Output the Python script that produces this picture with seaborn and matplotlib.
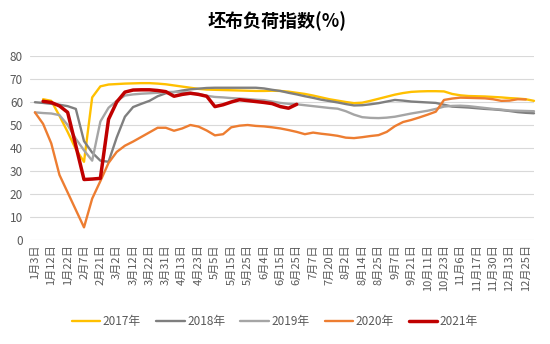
import numpy as np
import pandas as pd
import matplotlib
matplotlib.use("Agg")
import matplotlib.pyplot as plt
import seaborn as sns

sns.set_theme(style="white")
plt.rcParams['font.family'] = ['Noto Sans CJK SC', 'DejaVu Sans']

tick_labels = ["1月3日", "1月12日", "1月22日", "2月7日", "2月21日", "3月2日", "3月12日",
               "3月22日", "3月31日", "4月13日", "4月23日", "5月5日", "5月15日", "5月25日",
               "6月4日", "6月15日", "6月25日", "7月7日", "7月20日", "8月2日", "8月14日",
               "8月25日", "9月7日", "9月21日", "10月11日", "10月23日", "11月6日", "11月17日",
               "11月30日", "12月13日", "12月25日"]

N = None
y2017 = [N, 61.2, 60.5, 54, 47, 39.5, 34, 62, 66.8, 67.6, 67.8, 68, 68.1, 68.2, 68.2, 68,
         67.7, 67.2, 66.7, 66.2, 65.7, 65.4, 65.3, 65.2, 65.1, 65, 64.9, 64.8, 64.8, 64.9,
         64.8, 64.5, 64, 63.5, 62.8, 62, 61.2, 60.6, 60, 59.5, 59.7, 60.5, 61.4, 62.3, 63.2,
         63.9, 64.4, 64.6, 64.7, 64.7, 64.6, 63.5, 62.9, 62.6, 62.5, 62.4, 62.2, 62, 61.7,
         61.5, 61.2, 60.5]
y2018 = [59.9, 59.6, 59.2, 58.8, 58.2, 57, 43, 38, 34.5, 34, 44.6, 53.6, 57.8, 59.2, 60.5,
         62.5, 63.8, 64.3, 65, 65.5, 65.8, 66.1, 66.2, 66.2, 66.2, 66.2, 66.2, 66.2, 65.9,
         65.3, 64.8, 64, 63.3, 62.5, 61.8, 61, 60.4, 59.8, 59.1, 58.5, 58.6, 59, 59.5, 60.2,
         60.9, 60.6, 60.2, 60, 59.8, 59.6, 58.8, 58, 57.8, 57.6, 57.3, 57, 56.8, 56.5, 56.1,
         55.6, 55.3, 55.1]
y2019 = [55.5, 55.2, 55, 54.3, 50, 44, 39, 34.5, 51.5, 57.5, 60.5, 62.8, 63.3, 63.6, 63.8,
         64, 64.3, 64.4, 64.3, 64, 63.5, 62.7, 62.2, 62, 61.7, 61.5, 61.3, 61, 60.8, 60.2,
         59.6, 59.2, 59, 58.6, 58.2, 57.8, 57.4, 57.1, 56, 54.5, 53.4, 53.1, 53, 53.2, 53.6,
         54.3, 55, 55.6, 56.2, 57, 58, 58.3, 58.4, 58.2, 57.8, 57.4, 57, 56.7, 56.3, 56.2,
         56.1, 56]
y2020 = [55.5, 50.5, 42, 28.3, 20.7, 13.1, 5.5, 18, 25.6, 33.5, 38.3, 41, 42.8, 44.8, 46.8,
         48.8, 48.8, 47.5, 48.5, 50, 49.3, 47.6, 45.5, 46, 49, 49.7, 50, 49.6, 49.4, 49, 48.5,
         47.8, 47, 46, 46.7, 46.2, 45.8, 45.3, 44.5, 44.3, 44.7, 45.2, 45.6, 47, 49.5, 51.3,
         52.2, 53.3, 54.5, 55.8, 60.9, 61.5, 61.9, 61.8, 61.7, 61.6, 61.2, 60.5, 60.6, 61.2,
         61.1, N]
y2021 = [N, 60.3, 59.8, 58.3, 55.5, 41, 26.3, 26.5, 26.8, 52.5, 60, 64.3, 65.2, 65.3, 65.3,
         65, 64.5, 62.5, 63.3, 63.8, 63.3, 62.5, 58, 58.8, 60, 61, 60.6, 60.2, 59.8, 59.3, 58,
         57.3, 59] + [N] * 29

years = ["2017年", "2018年", "2019年", "2020年", "2021年"]
series = [y2017, y2018, y2019, y2020, y2021]
colors = ["#FFC000", "#7F7F7F", "#A5A5A5", "#ED7D31", "#C00000"]
widths = [1.7, 1.7, 1.7, 1.7, 2.5]

rows = []
for yr, vals in zip(years, series):
    for k, v in enumerate(vals):
        if v is not None:
            rows.append({"k": k, "value": v, "year": yr})
df = pd.DataFrame(rows)

fig = plt.figure(figsize=(5.5, 3.44), dpi=100)
ax = fig.add_axes([30 / 550, 1 - 240 / 344, 504 / 550, 184 / 344])

for yr, c, lw in zip(years, colors, widths):
    sub = df[df["year"] == yr]
    sns.lineplot(data=sub, x="k", y="value", ax=ax, color=c, linewidth=lw,
                 label=yr, legend=False, clip_on=False)

ax.set_ylim(0, 80)
ax.set_xlim(-0.6, 61.0)
ax.set_yticks(range(0, 81, 10))
ax.set_xticks(range(0, 61, 2))
ax.set_xticklabels(tick_labels, rotation=90, fontsize=8, color="#595959")
ax.tick_params(axis="y", labelsize=8.5, labelcolor="#595959", length=0, pad=5)
ax.tick_params(axis="x", length=0, pad=3)
ax.set_xlabel("")
ax.set_ylabel("")
ax.grid(axis="y", color="#D9D9D9", linewidth=0.8)
ax.grid(axis="x", visible=False)
ax.set_axisbelow(True)
for s in ax.spines.values():
    s.set_visible(False)

fig.text(0.504, 1 - 21 / 344, "坯布负荷指数(%)", ha="center", va="center",
         fontsize=13, fontweight="bold", color="#000000")

handles = [plt.Line2D([0], [0], color=c, linewidth=lw) for c, lw in zip(colors, widths)]
fig.legend(handles, years, loc="center", bbox_to_anchor=(0.5, 1 - 322 / 344), ncol=5,
           frameon=False, fontsize=8.5, handlelength=2.4, handletextpad=0.2,
           columnspacing=1.3, labelcolor="#595959")

fig.savefig("out.png", dpi=100)
